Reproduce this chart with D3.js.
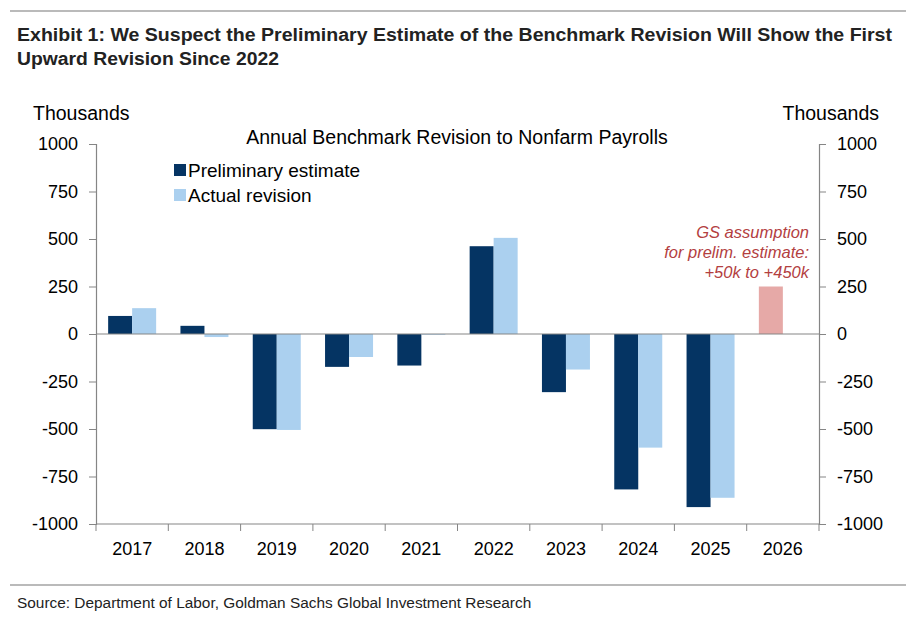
<!DOCTYPE html>
<html>
<head>
<meta charset="utf-8">
<script src="https://cdn.jsdelivr.net/npm/d3@7"></script>
<style>
  body { margin: 0; background: #fff; }
  svg { display: block; font-family: "Liberation Sans", Arial, sans-serif; }
</style>
</head>
<body>
<svg width="921" height="622"></svg>
<script>
const years = ["2017","2018","2019","2020","2021","2022","2023","2024","2025","2026"];
const prelim = [95, 43, -501, -173, -166, 462, -306, -818, -911, null];
const actual = [136, -16, -505, -121, -4, 506, -187, -598, -862, null];
const gsAssumption = [null, null, null, null, null, null, null, null, null, 250];
const yTicks = [1000, 750, 500, 250, 0, -250, -500, -750, -1000];
const noteLines = ["GS assumption", "for prelim. estimate:", "+50k to +450k"];

const svg = d3.select("svg");
const plotL = 96, plotR = 819, plotT = 144, plotB = 524;
const navy = "#053463", sky = "#abd0ef", pink = "#e6a9a7", axisCol = "#858585";

const x = d3.scaleBand().domain(years).range([plotL, plotR]);
const y = d3.scaleLinear().domain([-1000, 1000]).range([plotB, plotT]);
const bw = 24;

// squeeze a text horizontally to a target width (condensed look)
function fitWidth(sel, x0, w) {
  const natural = sel.node().getComputedTextLength();
  sel.attr("x", 0).attr("transform", `translate(${x0},0) scale(${w / natural},1)`);
}

// header rules + titles
svg.append("line").attr("x1", 10).attr("x2", 906).attr("y1", 11).attr("y2", 11)
  .attr("stroke", "#777").attr("stroke-width", 1.2);
const t1 = svg.append("text").attr("y", 41)
  .attr("font-weight", "bold").attr("font-size", 19).attr("fill", "#222")
  .text("Exhibit 1: We Suspect the Preliminary Estimate of the Benchmark Revision Will Show the First");
fitWidth(t1, 17, 876);
const t2 = svg.append("text").attr("y", 65)
  .attr("font-weight", "bold").attr("font-size", 19).attr("fill", "#222")
  .text("Upward Revision Since 2022");
fitWidth(t2, 17, 262);

svg.append("line").attr("x1", 10).attr("x2", 906).attr("y1", 585).attr("y2", 585)
  .attr("stroke", "#777").attr("stroke-width", 1.2);
const src = svg.append("text").attr("y", 608).attr("font-size", 15).attr("fill", "#222")
  .text("Source: Department of Labor, Goldman Sachs Global Investment Research");
fitWidth(src, 17, 515);

// unit labels and chart title
svg.append("text").attr("x", 33).attr("y", 120).attr("font-size", 19.5).text("Thousands");
svg.append("text").attr("x", 879).attr("y", 120).attr("font-size", 19.5)
  .attr("text-anchor", "end").text("Thousands");
svg.append("text").attr("x", 457).attr("y", 144).attr("font-size", 19.5)
  .attr("text-anchor", "middle").text("Annual Benchmark Revision to Nonfarm Payrolls");

// axes
const fmt = d => String(d);
const yl = svg.append("g").attr("transform", `translate(${plotL},0)`)
  .call(d3.axisLeft(y).tickValues(yTicks).tickSize(7).tickPadding(11).tickFormat(fmt));
const yr = svg.append("g").attr("transform", `translate(${plotR},0)`)
  .call(d3.axisRight(y).tickValues(yTicks).tickSize(7).tickPadding(11).tickFormat(fmt));
const xa = svg.append("g").attr("transform", `translate(0,${plotB})`)
  .call(d3.axisBottom(x).tickSize(0).tickPadding(18));
// x ticks on category boundaries
xa.selectAll(".bound").data(d3.range(years.length + 1)).enter().append("line")
  .attr("x1", i => plotL + i * x.step()).attr("x2", i => plotL + i * x.step())
  .attr("y1", 0).attr("y2", 7).attr("stroke", axisCol);

[yl, yr, xa].forEach(g => {
  g.select(".domain").attr("stroke", axisCol).attr("stroke-width", 1.2);
  g.selectAll(".tick line").attr("stroke", axisCol);
  g.selectAll("text").attr("font-size", 18).attr("fill", "#000")
    .attr("font-family", "'Liberation Sans', Arial, sans-serif");
});
xa.select(".domain").attr("d", `M${plotL},0H${plotR}`);

// bars
const cx = d => x(d) + x.bandwidth() / 2;
function bars(vals, off, col) {
  svg.append("g").selectAll("rect")
    .data(years.map((yy, i) => ({ yy, v: vals[i] })).filter(d => d.v != null))
    .enter().append("rect")
    .attr("x", d => cx(d.yy) + off)
    .attr("width", bw)
    .attr("y", d => y(Math.max(0, d.v)))
    .attr("height", d => Math.abs(y(d.v) - y(0)))
    .attr("fill", col);
}
bars(prelim, -bw, navy);
bars(actual, 0, sky);
bars(gsAssumption, -bw, pink);

// zero line
svg.append("line").attr("x1", plotL).attr("x2", plotR).attr("y1", y(0)).attr("y2", y(0))
  .attr("stroke", axisCol).attr("stroke-width", 1.2);

// legend
const legend = [["Preliminary estimate", navy], ["Actual revision", sky]];
legend.forEach(([t, c], i) => {
  svg.append("rect").attr("x", 174).attr("y", 164 + i * 25).attr("width", 12).attr("height", 12).attr("fill", c);
  svg.append("text").attr("x", 188).attr("y", 177 + i * 25).attr("font-size", 19).text(t);
});

// annotation
svg.append("text").attr("text-anchor", "end").attr("font-style", "italic")
  .attr("font-size", 16.5).attr("fill", "#b3403f")
  .selectAll("tspan").data(noteLines).enter().append("tspan")
  .attr("x", 809).attr("y", (d, i) => 238 + i * 20).text(d => d);
</script>
</body>
</html>
